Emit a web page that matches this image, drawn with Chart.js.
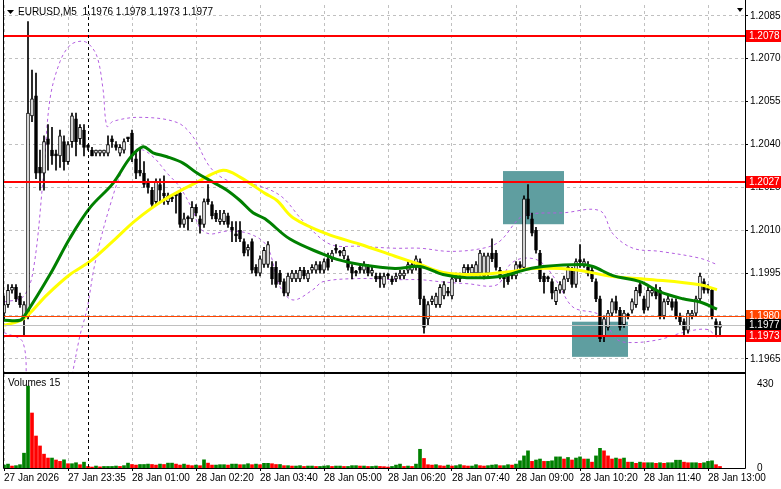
<!DOCTYPE html>
<html><head><meta charset="utf-8">
<script src="https://cdn.jsdelivr.net/npm/chart.js@4.4.1/dist/chart.umd.min.js"></script>
<style>html,body{margin:0;padding:0;background:#fff;overflow:hidden}#a,#b{position:absolute;left:0}#a{top:0}#b{top:372px}</style>
</head><body>
<canvas id="a" width="781" height="374"></canvas>
<canvas id="b" width="781" height="117"></canvas>
<script>
const opens=[1.1981,1.1984,1.1989,1.1990,1.1987,1.1980,1.1980,1.2050,1.2057,1.2032,1.2030,1.2042,1.2038,1.2036,1.2036,1.2041,1.2034,1.2041,1.2049,1.2042,
1.2045,1.2039,1.2038,1.2037,1.2037,1.2037,1.2037,1.2042,1.2040,1.2037,1.2038,1.2042,1.2044,1.2035,1.2031,1.2030,1.2027,1.2024,1.2020,1.2026,
1.2023,1.2020,1.2021,1.2022,1.2023,1.2012,1.2014,1.2014,1.2018,1.2014,1.2012,1.2021,1.2019,1.2016,1.2013,1.2013,1.2015,1.2011,1.2008,1.2010,
1.2006,1.2003,1.2006,1.1997,1.1995,1.1998,1.1998,1.1997,1.1997,1.1995,1.1992,1.1988,1.1993,1.1993,1.1993,1.1996,1.1993,1.1996,1.1996,1.1998,
1.1996,1.2000,1.2000,1.2003,1.2002,1.2001,1.2000,1.1997,1.1995,1.1997,1.1996,1.1997,1.1995,1.1994,1.1994,1.1991,1.1994,1.1993,1.1993,1.1994,
1.1994,1.1996,1.1996,1.1997,1.1999,1.1986,1.1979,1.1985,1.1984,1.1984,1.1987,1.1988,1.1987,1.1993,1.1993,1.1995,1.1997,1.1995,1.1995,1.1995,
1.1994,1.1995,1.2002,1.2002,1.1996,1.1993,1.1994,1.1994,1.1994,1.1998,1.1997,1.2021,1.2014,1.2010,1.2002,1.1994,1.1993,1.1992,1.1985,1.1989,
1.1989,1.1993,1.1996,1.1991,1.1999,1.1998,1.1997,1.1996,1.1992,1.1986,1.1973,1.1976,1.1981,1.1985,1.1982,1.1977,1.1980,1.1982,1.1984,1.1991,
1.1986,1.1983,1.1988,1.1989,1.1989,1.1980,1.1985,1.1985,1.1985,1.1980,1.1978,1.1975,1.1980,1.1981,1.1986,1.1992,1.1989,1.1989,1.1978,1.1976];
const highs=[1.1987,1.1991,1.1991,1.1991,1.1988,1.1985,1.2083,1.2066,1.2065,1.2038,1.2043,1.2047,1.2046,1.2038,1.2045,1.2043,1.2041,1.2051,1.2051,1.2047,
1.2047,1.2040,1.2039,1.2038,1.2038,1.2038,1.2043,1.2043,1.2041,1.2040,1.2042,1.2042,1.2045,1.2037,1.2039,1.2034,1.2028,1.2025,1.2028,1.2028,
1.2029,1.2023,1.2022,1.2023,1.2024,1.2016,1.2015,1.2020,1.2019,1.2015,1.2021,1.2026,1.2020,1.2017,1.2017,1.2017,1.2016,1.2013,1.2013,1.2013,
1.2007,1.2005,1.2007,1.1998,1.2001,1.2004,1.2006,1.1999,1.1999,1.1996,1.1993,1.1995,1.1996,1.1996,1.1997,1.1997,1.1996,1.1998,1.1999,1.1999,
1.2000,1.2002,1.2003,1.2005,1.2003,1.2004,1.2001,1.1998,1.1996,1.1998,1.1999,1.1998,1.1997,1.1995,1.1995,1.1995,1.1995,1.1994,1.1995,1.1996,
1.1996,1.1999,1.1999,1.2001,1.2000,1.1987,1.1985,1.1987,1.1988,1.1991,1.1992,1.1990,1.1994,1.1995,1.1995,1.1998,1.1998,1.1998,1.1999,1.2003,
1.2002,1.2002,1.2007,1.2003,1.1997,1.1994,1.1995,1.1995,1.1999,1.1999,1.2022,1.2026,1.2016,1.2011,1.2003,1.1995,1.1994,1.1993,1.1990,1.1992,
1.1994,1.1998,1.1997,1.2000,1.2005,1.2000,1.1999,1.1997,1.1993,1.1987,1.1980,1.1982,1.1986,1.1987,1.1983,1.1982,1.1981,1.1986,1.1990,1.1992,
1.1987,1.1990,1.1990,1.1991,1.1990,1.1986,1.1987,1.1986,1.1986,1.1981,1.1979,1.1982,1.1982,1.1987,1.1995,1.1993,1.1991,1.1990,1.1979,1.1978];
const lows=[1.1979,1.1983,1.1988,1.1985,1.1983,1.1973,1.1979,1.2048,1.2028,1.2024,1.2024,1.2031,1.2033,1.2031,1.2032,1.2031,1.2033,1.2039,1.2036,1.2040,
1.2036,1.2038,1.2036,1.2036,1.2036,1.2036,1.2036,1.2039,1.2038,1.2036,1.2037,1.2041,1.2034,1.2028,1.2029,1.2025,1.2023,1.2018,1.2019,1.2020,
1.2019,1.2019,1.2020,1.2016,1.2011,1.2011,1.2010,1.2013,1.2015,1.2009,1.2011,1.2019,1.2014,1.2013,1.2012,1.2012,1.2011,1.2006,1.2006,1.2006,
1.2001,1.2001,1.1995,1.1994,1.1994,1.1997,1.1997,1.1991,1.1990,1.1991,1.1987,1.1987,1.1992,1.1992,1.1992,1.1993,1.1992,1.1995,1.1995,1.1995,
1.1995,1.1996,1.1999,1.2002,1.2001,1.2000,1.1996,1.1993,1.1994,1.1995,1.1995,1.1994,1.1994,1.1992,1.1990,1.1990,1.1993,1.1991,1.1992,1.1993,
1.1993,1.1995,1.1995,1.1996,1.1984,1.1974,1.1977,1.1984,1.1983,1.1983,1.1986,1.1987,1.1986,1.1992,1.1992,1.1994,1.1995,1.1994,1.1994,1.1994,
1.1993,1.1994,1.1999,1.1996,1.1993,1.1990,1.1991,1.1993,1.1993,1.1996,1.1996,1.2014,1.2008,1.2002,1.1992,1.1988,1.1992,1.1986,1.1984,1.1988,
1.1988,1.1992,1.1990,1.1990,1.1997,1.1997,1.1994,1.1992,1.1985,1.1971,1.1971,1.1975,1.1980,1.1981,1.1975,1.1976,1.1979,1.1981,1.1983,1.1987,
1.1981,1.1982,1.1987,1.1986,1.1979,1.1979,1.1984,1.1982,1.1979,1.1977,1.1973,1.1974,1.1979,1.1980,1.1985,1.1988,1.1988,1.1979,1.1973,1.1973];
const closes=[1.1984,1.1989,1.1990,1.1986,1.1984,1.1984,1.2051,1.2056,1.2030,1.2030,1.2041,1.2040,1.2036,1.2036,1.2043,1.2034,1.2040,1.2050,1.2041,1.2046,
1.2039,1.2039,1.2036,1.2038,1.2038,1.2038,1.2040,1.2041,1.2039,1.2039,1.2041,1.2042,1.2036,1.2030,1.2030,1.2026,1.2025,1.2019,1.2027,1.2024,
1.2022,1.2022,1.2021,1.2022,1.2012,1.2014,1.2014,1.2018,1.2016,1.2012,1.2020,1.2020,1.2015,1.2014,1.2014,1.2016,1.2012,1.2010,1.2008,1.2007,
1.2002,1.2004,1.1996,1.1995,1.2000,1.2003,1.2005,1.1993,1.1991,1.1992,1.1988,1.1994,1.1995,1.1995,1.1996,1.1994,1.1995,1.1997,1.1998,1.1996,
1.1999,1.1997,1.2002,1.2003,1.2002,1.2003,1.1997,1.1995,1.1995,1.1996,1.1998,1.1995,1.1996,1.1993,1.1993,1.1994,1.1994,1.1992,1.1994,1.1995,
1.1995,1.1998,1.1998,1.2000,1.1986,1.1976,1.1984,1.1986,1.1987,1.1990,1.1991,1.1988,1.1993,1.1994,1.1993,1.1997,1.1996,1.1997,1.1998,1.2002,
1.2001,1.2001,1.2000,1.1997,1.1994,1.1993,1.1992,1.1994,1.1998,1.1997,1.2021,1.2015,1.2009,1.2003,1.1993,1.1992,1.1993,1.1988,1.1989,1.1991,
1.1993,1.1997,1.1991,1.1999,1.1999,1.1999,1.1995,1.1993,1.1986,1.1972,1.1979,1.1981,1.1985,1.1982,1.1976,1.1981,1.1980,1.1985,1.1989,1.1988,
1.1982,1.1989,1.1989,1.1987,1.1980,1.1985,1.1986,1.1983,1.1980,1.1978,1.1975,1.1981,1.1981,1.1986,1.1994,1.1989,1.1989,1.1980,1.1976,1.1977];
const volumes=[15,20,10,12,17,76,420,282,164,113,71,51,51,41,34,42,22,22,27,17,
30,8,5,10,6,8,8,8,10,8,12,25,18,15,18,18,20,18,15,20,
18,25,25,20,15,20,15,12,15,12,42,25,15,15,17,17,15,20,20,17,
17,22,17,20,17,24,24,22,18,18,12,12,10,10,12,8,10,10,8,8,
10,12,8,10,10,8,8,12,12,10,10,8,8,10,8,7,5,8,15,20,
8,10,8,20,96,49,17,15,17,12,10,15,10,12,17,12,10,10,17,12,
10,12,15,17,12,12,17,15,20,37,62,88,34,41,46,34,34,37,57,57,
46,54,41,51,57,46,46,30,62,101,88,62,46,51,46,51,30,30,24,30,
27,27,27,24,27,24,27,27,40,40,30,27,27,27,24,27,34,37,17,8];
const timeTickIdx=[0,16,32,48,64,80,96,112,128,144,160,176];
const timeTickLabels=["27 Jan 2026","27 Jan 23:35","28 Jan 01:00","28 Jan 02:20","28 Jan 03:40","28 Jan 05:00","28 Jan 06:20","28 Jan 07:40","28 Jan 09:00","28 Jan 10:20","28 Jan 11:40","28 Jan 13:00"];
const priceTicks=[1.1965,1.1980,1.1995,1.2010,1.2025,1.2040,1.2055,1.2070,1.2085];
const maFast=[[0,1.19785],[4,1.19785],[5.25,1.19803],[11.5,1.19945],[16.5,1.20073],[21.5,1.20179],[27.25,1.20264],[31.5,1.20353],[34.75,1.20392],[37.25,1.20371],[40.75,1.20357],[44.75,1.20335],[48.25,1.2030],[52.25,1.20268],[55.75,1.2024],[59,1.20204],[62.25,1.20161],[65.25,1.2014],[71.5,1.20069],[79.75,1.20016],[83.25,1.19998],[89,1.1998],[97.75,1.19966],[104,1.19973],[109.75,1.19945],[115.75,1.19934],[124,1.19938],[130.75,1.19963],[134.75,1.19973],[144,1.1998],[147.25,1.19973],[152.25,1.19941],[159,1.1992],[164,1.19884],[169.75,1.1986],[174,1.19849],[178.25,1.19824]];
const maSlow=[[0,1.19767],[4.75,1.19789],[10.75,1.19874],[16.5,1.19945],[21.5,1.19991],[27.25,1.20062],[32.75,1.20133],[39.75,1.20204],[48.25,1.20268],[54.75,1.2031],[59,1.20286],[65.25,1.20229],[68.25,1.20204],[72.25,1.20144],[80.75,1.20087],[89,1.20051],[97.75,1.20009],[104,1.1998],[109.75,1.19952],[118.25,1.19945],[126.5,1.19955],[132.25,1.19966],[142.25,1.19963],[152.25,1.19938],[162.25,1.19927],[174,1.19909],[178.25,1.19892]];
const bandUpper=[[0,1.19849],[4.75,1.19867],[7.25,1.19955],[9.75,1.20275],[11.5,1.20559],[14,1.2069],[16.5,1.20747],[19,1.20761],[21,1.20754],[23.25,1.20708],[24.75,1.20594],[25.75,1.20463],[27.25,1.20481],[34,1.20495],[43.25,1.20477],[47.25,1.20427],[51.5,1.20321],[55.75,1.20275],[61.5,1.20264],[69,1.20222],[74.75,1.20133],[81.5,1.20051],[89,1.20044],[97.75,1.20037],[104,1.20037],[111.5,1.20026],[119.75,1.20037],[124,1.20062],[129,1.20144],[132.25,1.20158],[139.75,1.20161],[149,1.20168],[152.25,1.20087],[157.25,1.20037],[164,1.20026],[174,1.20002],[178.25,1.1998]];
const bandLower=[[0,1.19742],[4.75,1.19707],[6,1.19494],[10.25,1.19352],[15.25,1.19494],[17,1.19593],[19,1.19732],[20.75,1.19824],[22.75,1.19984],[26.5,1.20186],[30.25,1.20328],[34,1.20381],[37.25,1.20357],[40.75,1.2030],[44,1.2025],[47.25,1.20168],[49,1.20108],[51.5,1.20087],[55.75,1.20097],[61.5,1.20087],[65.75,1.20044],[69,1.19902],[72.25,1.19856],[77.25,1.19892],[79.75,1.1992],[89,1.19931],[97.75,1.19927],[104,1.19927],[109,1.1992],[115.75,1.19913],[123.25,1.19909],[126.5,1.1998],[129.75,1.20002],[134,1.19991],[138.25,1.1992],[142.25,1.19831],[149,1.19803],[153.25,1.19718],[157.25,1.19707],[164,1.19718],[169.75,1.19742],[175.75,1.19753],[178.25,1.19725]];
const levelLines=[1.2078,1.2027,1.1973];
const bidPrice=1.1977, askPrice=1.1980;
const zoneA=[124.75,140,1.20307,1.20121];
const zoneB=[142,156,1.1978,1.19657];
const separatorIdx=21;

const FONT='"Liberation Sans", Arial, sans-serif';
const idx=opens.map((_,i)=>i);
const XMIN=-0.25, XMAX=185.25;
const noPad=s=>{s.paddingTop=0;s.paddingBottom=0;s.paddingLeft=0;s.paddingRight=0;};

function xScaleBase(showTicks,h){
  return {type:'linear',min:XMIN,max:XMAX,offset:false,
    afterBuildTicks:s=>{s.ticks=timeTickIdx.map(v=>({value:v}));},
    afterFit:s=>{s.height=h;noPad(s);},
    grid:{color:'#c0c0c0',drawTicks:showTicks,tickLength:3,tickColor:'#000',offset:false},
    border:{display:false,dash:[3,3]},
    ticks:{display:showTicks,autoSkip:false,maxRotation:0,align:'start',color:'#000',font:{family:FONT,size:10},padding:1,
      callback:v=>{const k=timeTickIdx.indexOf(v);return k>=0?timeTickLabels[k]:'';}}};
}

const overlayMain={id:'ov',
  beforeDatasetsDraw(c){const g=c.ctx,x=c.scales.x,y=c.scales.y;g.save();g.fillStyle='#5f9ea0';
    [zoneA,zoneB].forEach(z=>{const x1=x.getPixelForValue(z[0]),x2=x.getPixelForValue(z[1]),y1=y.getPixelForValue(z[2]),y2=y.getPixelForValue(z[3]);g.fillRect(x1,y1,x2-x1,y2-y1);});
    g.restore();},
  afterDatasetsDraw(c){const g=c.ctx,x=c.scales.x,y=c.scales.y,a=c.chartArea;g.save();
    g.beginPath();g.rect(a.left,a.top,a.right-a.left,a.bottom-a.top);g.clip();
    const hl=(p,col,w)=>{const py=Math.round(y.getPixelForValue(p))+(w%2?0.5:0);g.strokeStyle=col;g.lineWidth=w;g.beginPath();g.moveTo(a.left,py);g.lineTo(a.right,py);g.stroke();};
    hl(bidPrice,'#c0c0c0',1);hl(askPrice,'#ff4500',1);
    levelLines.forEach(p=>hl(p,'#ff0000',2));
    const sx=Math.round(x.getPixelForValue(separatorIdx))+0.5;g.setLineDash([3,3]);g.strokeStyle='#000';g.lineWidth=1;g.beginPath();g.moveTo(sx,a.top);g.lineTo(sx,a.bottom);g.stroke();g.setLineDash([]);
    g.restore();},
  afterDraw(c){const g=c.ctx,y=c.scales.y,a=c.chartArea;g.save();
    g.strokeStyle='#000';g.lineWidth=1;g.beginPath();g.moveTo(a.left+0.5,0);g.lineTo(a.left+0.5,a.bottom+0.5);g.lineTo(a.right+0.5,a.bottom+0.5);g.moveTo(a.right+0.5,0);g.lineTo(a.right+0.5,a.bottom);g.stroke();
    g.font='10px '+FONT;g.textBaseline='middle';
    const box=(p,bg)=>{const py=Math.round(y.getPixelForValue(p));g.fillStyle=bg;g.fillRect(a.right+1,py-6,35,12);g.fillStyle='#fff';g.fillText(p.toFixed(4),a.right+4,py+0.5);};
    box(1.2078,'#ff0000');box(1.2027,'#ff0000');box(askPrice,'#ff4500');box(bidPrice,'#000');box(1.1973,'#ff0000');
    g.fillStyle='#000';g.font='10px '+FONT;g.textBaseline='middle';
    g.beginPath();g.moveTo(7,10);g.lineTo(14,10);g.lineTo(10.5,14);g.closePath();g.fill();
    g.fillText('EURUSD,M5  1.1976 1.1978 1.1973 1.1977',18,12);
    g.beginPath();g.moveTo(737,8);g.lineTo(743,8);g.lineTo(740,12);g.closePath();g.fill();
    g.restore();}};

const lineDs=(pts,col,w,dash,ord)=>({type:'line',data:pts.map(p=>({x:p[0],y:p[1]})),borderColor:col,borderWidth:w,borderDash:dash,pointRadius:0,tension:0.35,order:ord});

new Chart(document.getElementById('a'),{
  data:{datasets:[
    lineDs(bandUpper,'#b35fe0',1,[3,3],6),
    lineDs(bandLower,'#b35fe0',1,[3,3],6),
    {type:'bar',data:idx.map(i=>({x:i,y:[lows[i],highs[i]]})),backgroundColor:'#000',barThickness:1,grouped:false,order:5},
    {type:'bar',data:idx.map(i=>({x:i,y:[Math.min(opens[i],closes[i]),Math.max(opens[i],closes[i])]})),
      backgroundColor:idx.map(i=>closes[i]>opens[i]?'#fff':'#000'),borderColor:'#000',borderWidth:1,borderSkipped:false,barThickness:3,minBarLength:2,grouped:false,order:4},
    lineDs(maSlow,'#ffff00',3,[],2),
    lineDs(maFast,'#008000',3,[],1)
  ]},
  options:{responsive:false,animation:false,devicePixelRatio:1,
    layout:{padding:{left:3,top:5,right:0,bottom:2}},
    plugins:{legend:{display:false},tooltip:{enabled:false}},
    scales:{
      x:xScaleBase(false,0),
      y:{position:'right',min:1.19604,max:1.20888,
        afterBuildTicks:s=>{s.ticks=priceTicks.map(v=>({value:v}));},
        afterFit:s=>{s.width=36;noPad(s);},
        grid:{color:'#c0c0c0',tickColor:'#000',tickLength:3},
        border:{display:false,dash:[3,3]},
        ticks:{color:'#000',font:{family:FONT,size:10},padding:2,callback:v=>v.toFixed(4)}}
    }},
  plugins:[overlayMain]});

const overlayVol={id:'ovv',
  afterDatasetsDraw(c){const g=c.ctx,x=c.scales.x,a=c.chartArea;g.save();
    const sx=Math.round(x.getPixelForValue(separatorIdx))+0.5;g.setLineDash([3,3]);g.strokeStyle='#000';g.lineWidth=1;g.beginPath();g.moveTo(sx,a.top);g.lineTo(sx,a.bottom);g.stroke();g.setLineDash([]);
    g.strokeStyle='#000';g.lineWidth=2;g.beginPath();g.moveTo(a.left,1);g.lineTo(a.right+1,1);g.stroke();
    g.lineWidth=1;g.beginPath();g.moveTo(a.left+0.5,0);g.lineTo(a.left+0.5,a.bottom+0.5);g.lineTo(a.right+0.5,a.bottom+0.5);g.lineTo(a.right+0.5,0);g.stroke();
    g.fillStyle='#000';g.font='10px '+FONT;g.textBaseline='middle';g.fillText('Volumes 15',8,11);
    g.restore();}};

new Chart(document.getElementById('b'),{
  type:'bar',
  data:{datasets:[{data:idx.map(i=>({x:i,y:volumes[i]})),
    backgroundColor:idx.map(i=>(i===0||volumes[i]>=volumes[i-1])?'#008000':'#ff0000'),barThickness:3,grouped:false}]},
  options:{responsive:false,animation:false,devicePixelRatio:1,
    layout:{padding:{left:3,top:2,right:0,bottom:0}},
    plugins:{legend:{display:false},tooltip:{enabled:false}},
    scales:{
      x:xScaleBase(true,21),
      y:{position:'right',min:0,max:482,
        afterBuildTicks:s=>{s.ticks=[{value:0},{value:430}];},
        afterFit:s=>{s.width=36;noPad(s);},
        grid:{display:false},border:{display:false},
        ticks:{color:'#000',font:{family:FONT,size:10},padding:4,callback:v=>String(v)}}
    }},
  plugins:[overlayVol]});
</script>
</body></html>
